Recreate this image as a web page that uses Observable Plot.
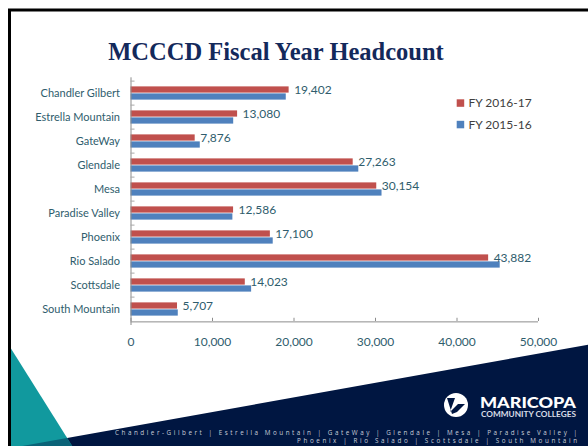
<!DOCTYPE html>
<html><head><meta charset="utf-8">
<script src="https://cdn.jsdelivr.net/npm/d3@7"></script>
<script src="https://cdn.jsdelivr.net/npm/@observablehq/plot@0.6"></script>
<style>
html,body{margin:0;padding:0;background:#fff;}
#slide{position:relative;width:588px;height:446px;overflow:hidden;background:#fff;}
#slide svg{position:absolute;left:0;top:0;}
</style>
</head><body>
<div id="slide"></div>
<script>
// ---- data ----
const categories = ["Chandler Gilbert","Estrella Mountain","GateWay","Glendale","Mesa","Paradise Valley","Phoenix","Rio Salado","Scottsdale","South Mountain"];
const fy1617 = [19402,13080,7876,27263,30154,12586,17100,43882,14023,5707];
const fy1516 = [19050,12600,8500,27950,30800,12500,17450,45300,14800,5800];
const seriesNames = ["FY 2016-17","FY 2015-16"];
const seriesColors = ["#c0504d","#4f81bd"];
const xTicks = [0,10000,20000,30000,40000,50000];
const titleText = "MCCCD Fiscal Year Headcount";
const footerLines = ["Chandler-Gilbert | Estrella Mountain | GateWay | Glendale | Mesa | Paradise Valley |","Phoenix | Rio Salado | Scottsdale | South Mountain"];

const W = 588, H = 446;
const slide = d3.select("#slide");

// ---- background decorations ----
const bg = slide.append("svg").attr("width", W).attr("height", H);
const navy = "#001641", teal = "#11999e", tealDark = "#0a6378";
bg.append("polygon").attr("points", "22.3,446 588,344.7 588,446").attr("fill", navy);
bg.append("polygon").attr("points", "10,347 72.2,446 10,446").attr("fill", teal);
bg.append("polygon").attr("points", "22.3,446 67,438 72.2,446").attr("fill", tealDark);
bg.append("path").attr("d", "M9.5,446 V10 H588").attr("fill", "none").attr("stroke", "#000").attr("stroke-width", 3);
bg.append("text").attr("x", 276).attr("y", 60).attr("text-anchor", "middle")
  .attr("font-family", "'Liberation Serif', serif").attr("font-weight", "bold").attr("font-size", 24.5)
  .attr("fill", "#13295b").text(titleText);

// ---- chart ----
const rows16 = categories.map((c, i) => ({category: c, value: fy1617[i]}));
const rows15 = categories.map((c, i) => ({category: c, value: fy1516[i]}));
const plotTop = 77.3, plotBottom = 325, mL = 130.5, mR = 50, PH = 360;
const band = (plotBottom - plotTop) / categories.length;
const half = band / 2, barH = 7;
const axisColor = "#8c8c8c", labelColor = "#2f5d6d";
const tickLen = 4 * 50000 / (W - mL - mR);
const lastCat = categories[categories.length - 1];

const chart = Plot.plot({
  width: W, height: PH,
  marginLeft: mL, marginRight: mR, marginTop: plotTop, marginBottom: PH - plotBottom,
  style: {background: "transparent", fontFamily: "Lato, sans-serif", fontSize: "12px", color: labelColor},
  x: {domain: [0, 50000]},
  y: {domain: categories, padding: 0},
  marks: [
    Plot.barX(rows15, {x: "value", y: "category", fill: seriesColors[1], insetTop: half, insetBottom: half - barH}),
    Plot.barX(rows16, {x: "value", y: "category", fill: seriesColors[0], insetTop: half - barH, insetBottom: half}),
    Plot.ruleX([0], {stroke: axisColor}),
    Plot.ruleY([lastCat], {y: d => d, dy: half, x1: 0, x2: 50000, stroke: axisColor}),
    Plot.ruleY(categories, {y: d => d, dy: -half, x1: 0, x2: tickLen, stroke: "#a8a8a8"}),
    Plot.tickX(xTicks, {x: d => d, y: () => lastCat, insetTop: band - 4, stroke: axisColor}),
    Plot.axisX({ticks: xTicks, tickSize: 0, tickPadding: 12, tickFormat: d3.format(","), fill: labelColor, fontSize: 12, label: null}),
    Plot.axisY({tickSize: 0, tickPadding: 11, fill: labelColor, fontSize: 11, label: null}),
    Plot.text(rows16, {x: "value", y: "category", text: d => d3.format(",")(d.value), dx: 5, dy: -barH / 2, textAnchor: "start", fill: labelColor, fontSize: 12})
  ]
});
slide.node().appendChild(chart);

// ---- foreground: legend, logo, footer ----
const fg = slide.append("svg").attr("width", W).attr("height", H);
seriesNames.forEach((s, i) => {
  const y = 103 + i * 21.5;
  fg.append("rect").attr("x", 456.7).attr("y", y - 3.7).attr("width", 7.5).attr("height", 7.5).attr("fill", seriesColors[i]);
  fg.append("text").attr("x", 468.5).attr("y", y).attr("dy", "0.35em")
    .attr("font-family", "Lato, sans-serif").attr("font-size", 12).attr("fill", "#404040").text(s);
});
// logo
fg.append("circle").attr("cx", 456).attr("cy", 405).attr("r", 12).attr("fill", "#fff");
fg.append("path").attr("d", "M447,398 L455,398 L450,412 L458,404 L465,404 L457,412 L452,414 Z").attr("fill", navy);
fg.append("text").attr("x", 480).attr("y", 408).attr("font-family", "Lato, sans-serif").attr("font-weight", "900")
  .attr("font-size", 15).attr("fill", "#fff").attr("textLength", 96).attr("lengthAdjust", "spacingAndGlyphs").text("MARICOPA");
fg.append("text").attr("x", 481).attr("y", 416.5).attr("font-family", "Lato, sans-serif").attr("font-weight", "bold")
  .attr("font-size", 6.5).attr("fill", "#d8dde6").attr("textLength", 95).attr("lengthAdjust", "spacingAndGlyphs").text("COMMUNITY COLLEGES");
// footer lines
fg.append("text").attr("x", 115).attr("y", 435).attr("font-family", "'Open Sans', sans-serif").attr("font-size", 6.3)
  .attr("fill", "#c8ced8").attr("textLength", 462).attr("lengthAdjust", "spacing").text(footerLines[0]);
fg.append("text").attr("x", 297).attr("y", 443).attr("font-family", "'Open Sans', sans-serif").attr("font-size", 6.3)
  .attr("fill", "#c8ced8").attr("textLength", 280).attr("lengthAdjust", "spacing").text(footerLines[1]);
</script>
</body></html>
